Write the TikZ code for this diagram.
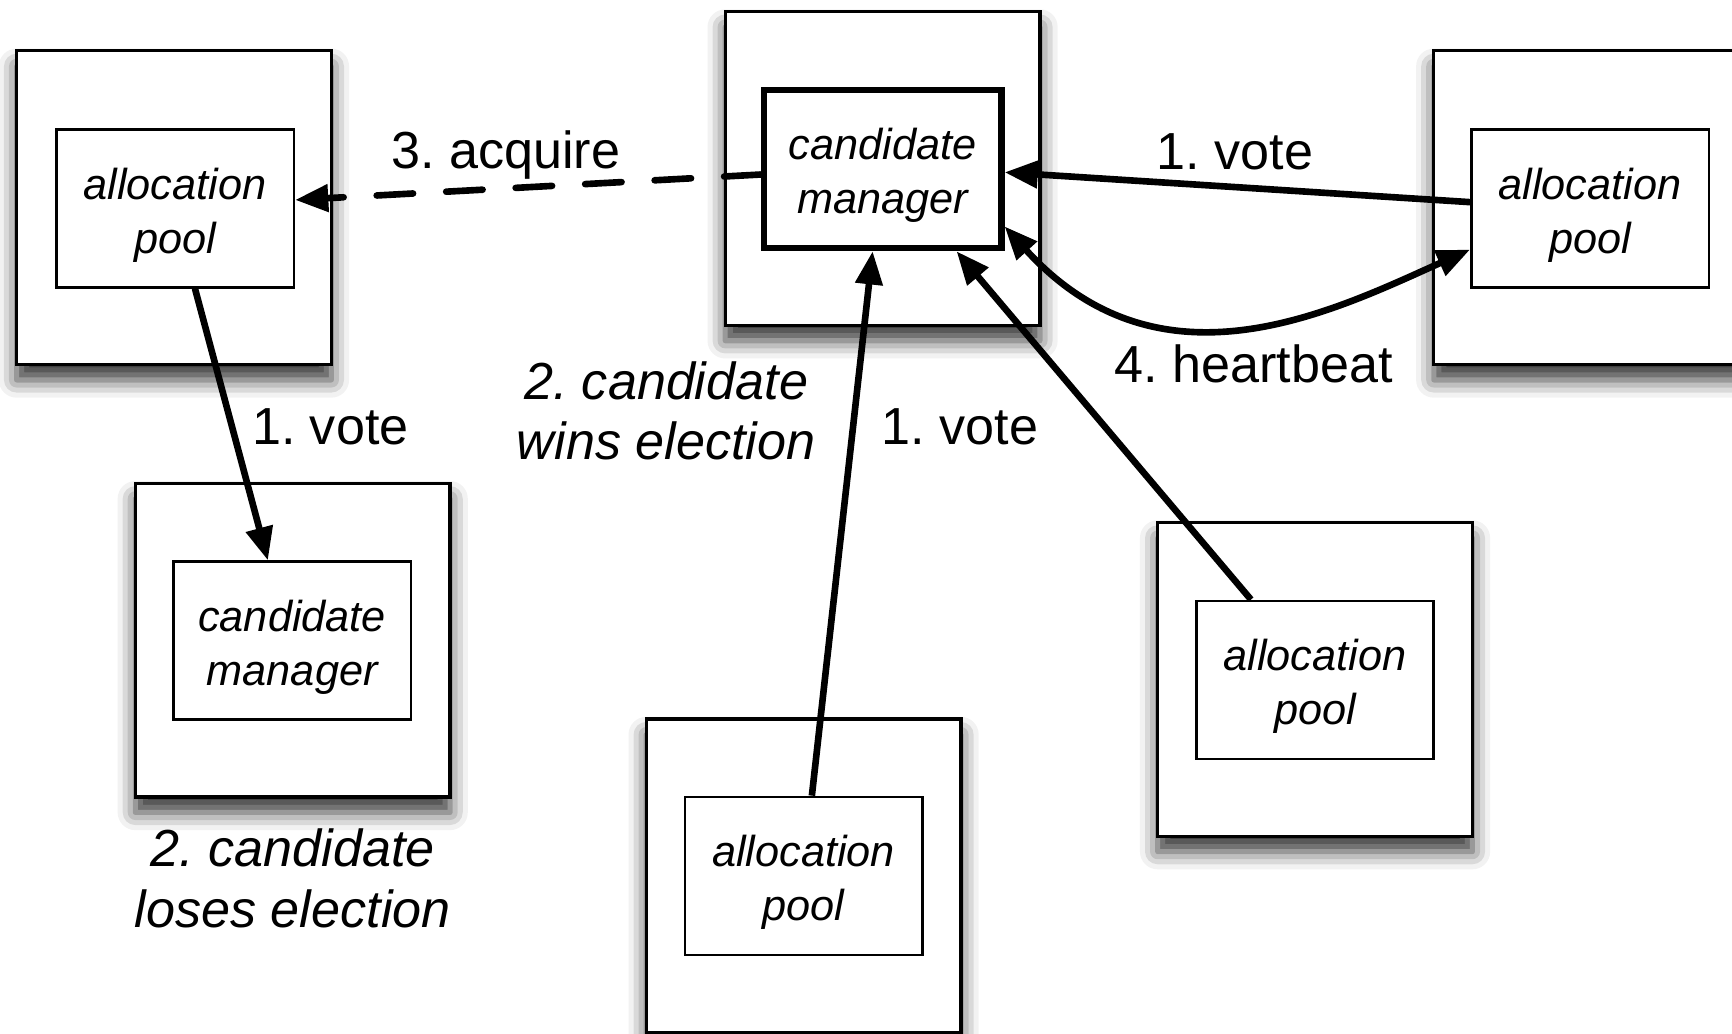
\documentclass[tikz,border=0pt]{standalone}
\usepackage{fontspec}
\setmainfont{Liberation Sans}
\usetikzlibrary{shadows.blur,arrows.meta}
% extra room above the first line of a process box
\newcommand\boxlift{\rule{0pt}{20.3pt}}

\begin{document}
\frenchspacing
\begin{tikzpicture}[x=0.5pt,y=-0.5pt,
  >={Triangle[length=15pt,width=12pt]},
  host/.style={draw, line width=1.5pt, fill=white, minimum width=142.5pt,
    minimum height=142pt, inner sep=0pt,
    blur shadow={shadow xshift=0pt, shadow yshift=-7pt,
      shadow blur radius=8pt, shadow opacity=80}},
  proc/.style={draw, line width=1.2pt, fill=white, minimum width=107.5pt,
    minimum height=71.5pt, inner sep=0pt, align=center,
    font=\fontsize{19.6}{24.5}\selectfont\itshape},
  active/.style={proc, line width=3pt},
  lbl/.style={font=\fontsize{23.6}{27.5}\selectfont, align=center, inner sep=0pt},
  ilbl/.style={lbl, font=\fontsize{23.6}{27.5}\selectfont\itshape},
  flow/.style={line width=3pt, ->},
]
\useasboundingbox (0,0) rectangle (1568,936);

% hosts with their processes
\node[host]   (Aout) at (157.5,188) {};
\node[proc]   (Ain)  at (158.5,188.5) {\boxlift allocation\\pool};
\node[host]   (Bout) at (799,152.5) {};
\node[active] (Bin)  at (799,153) {\boxlift candidate\\manager};
\node[host]   (Cout) at (1440.5,188) {};
\node[proc]   (Cin)  at (1439.5,188.5) {\boxlift allocation\\pool};
\node[host]   (Dout) at (265,579.5) {};
\node[proc]   (Din)  at (264.5,580) {\boxlift candidate\\manager};
\node[host]   (Eout) at (727.5,793) {};
\node[proc]   (Ein)  at (727.5,793) {\boxlift allocation\\pool};
\node[host]   (Fout) at (1190.5,615) {};
\node[proc]   (Fin)  at (1190.5,615.5) {\boxlift allocation\\pool};

% labels
\node[lbl]  (acq)   at (458,140)  {3. acquire};
\node[lbl]  (voteC) at (1118,137) {1. vote};
\node[lbl]  (hb)    at (1135,329) {4. heartbeat};
\node[lbl]  (voteA) at (299,386)  {1. vote};
\node[lbl]  (voteE) at (869,386)  {1. vote};
\node[ilbl] (wins)  at (603,372)  {2. candidate\\wins election};
\node[ilbl] (loses) at (265,795)  {2. candidate\\loses election};

% messages
\draw[flow, line cap=round, dash pattern=on 16.5pt off 15pt]
  ([yshift=-2.5pt]Bin.west) -- ([yshift=3.75pt]Ain.east);
\draw[flow] ([yshift=2.75pt]Cin.west) -- ([yshift=-1.5pt]Bin.east);
\draw[line width=3pt, <->]
  ([yshift=-26pt]Bin.east) .. controls +(141,155) and +(-125,56) ..
  ([yshift=-18.75pt]Cin.west);
\draw[flow] ([xshift=9pt]Ain.south) -- ([xshift=-11pt]Din.north);
\draw[flow] ([xshift=3.75pt]Ein.north) -- ([xshift=-4.5pt]Bin.south);
\draw[flow] ([xshift=-29pt]Fin.north) -- ([xshift=33.5pt]Bin.south);
\end{tikzpicture}
\end{document}
